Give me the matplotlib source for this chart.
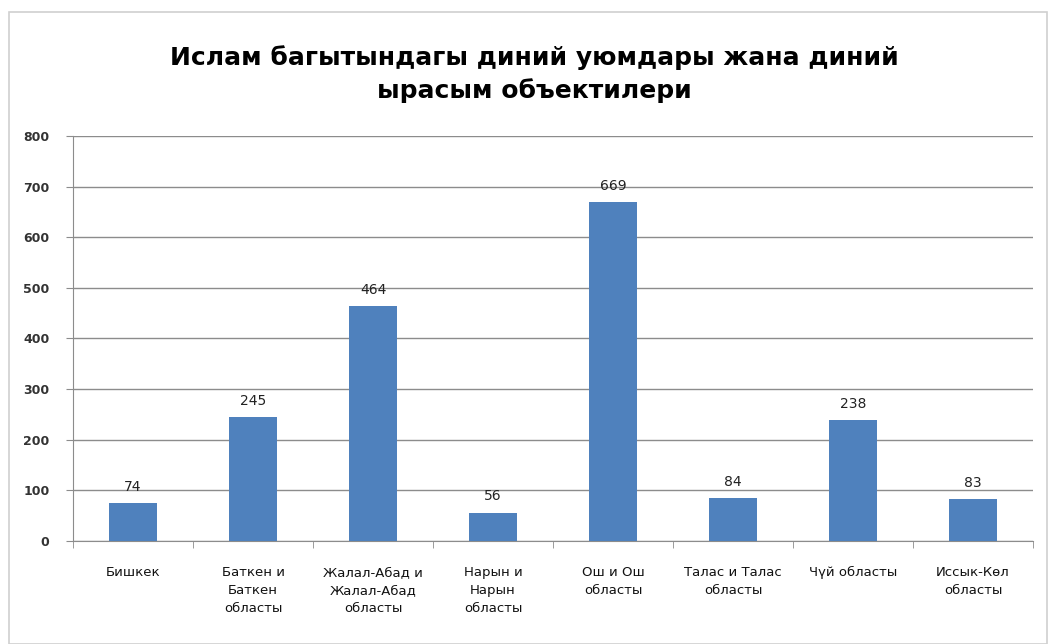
import matplotlib
matplotlib.use("Agg")
import matplotlib.pyplot as plt
from matplotlib.patches import Rectangle

categories = ["Бишкек", "Баткен и\nБаткен\nобласты", "Жалал-Абад и\nЖалал-Абад\nобласты",
              "Нарын и\nНарын\nобласты", "Ош и Ош\nобласты", "Талас и Талас\nобласты",
              "Чүй областы", "Иссык-Көл\nобласты"]
values = [74, 245, 464, 56, 669, 84, 238, 83]
yticks = [0, 100, 200, 300, 400, 500, 600, 700, 800]

plt.rcParams['font.family'] = ['DejaVu Sans']

fig = plt.figure(figsize=(10.48, 6.44), dpi=100)
fig.patches.append(Rectangle((0.009, 0.0), 0.99, 0.982, transform=fig.transFigure,
                             fill=False, edgecolor="#d0d0d0", linewidth=1.2))
ax = fig.add_axes([0.0697, 0.16, 0.916, 0.629])

x = range(len(values))
bars = ax.bar(x, values, width=0.4, color="#4F81BD", zorder=3)
for i, v in enumerate(values):
    ax.text(i, v + 18, str(v), ha="center", va="bottom", fontsize=10, color="#222222")

ax.set_xlim(-0.5, len(values) - 0.5)
ax.set_ylim(0, 800)
ax.set_yticks(yticks)
ax.set_yticklabels([str(t) for t in yticks], fontsize=9, fontweight="bold", color="#333333")
ax.yaxis.grid(True, color="#8c8c8c", linewidth=1.0, zorder=0)
ax.set_xticks(list(x))
ax.set_xticklabels(categories, fontsize=9.5, color="#111111", linespacing=1.5, va="top")
ax.tick_params(axis="x", length=0, pad=18)
ax.tick_params(axis="y", length=5, color="#8c8c8c", pad=12)
# category separator ticks
ax.set_xticks([i + 0.5 for i in range(-1, len(values))], minor=True)
ax.tick_params(axis="x", which="minor", length=5, color="#8c8c8c")
for s in ["top", "right"]:
    ax.spines[s].set_visible(False)
for s in ["left", "bottom"]:
    ax.spines[s].set_color("#8c8c8c")

fig.text(0.51, 0.885, "Ислам багытындагы диний уюмдары жана диний\nырасым объектилери",
         ha="center", va="center", fontsize=18, fontweight="bold", linespacing=1.45)

fig.savefig("out.png", dpi=100)
